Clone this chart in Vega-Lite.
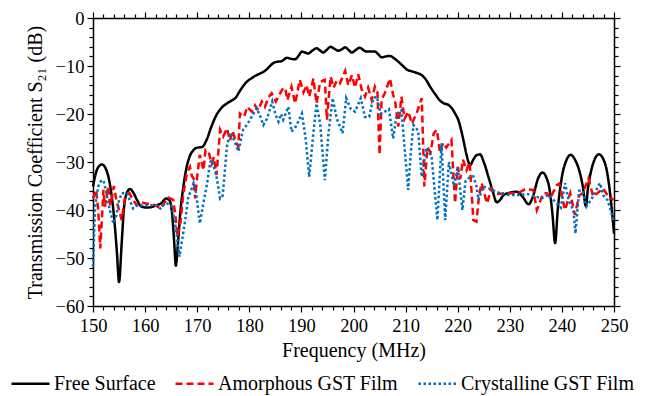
{
  "$schema": "https://vega.github.io/schema/vega-lite/v6.json",
  "width": 521,
  "height": 288,
  "autosize": "none",
  "padding": {"left": 93, "top": 18, "right": 32, "bottom": 90},
  "background": "white",
  "config": {
    "view": {"stroke": null},
    "font": "'Liberation Serif', 'DejaVu Serif', serif",
    "axis": {
      "grid": false,
      "domainColor": "black",
      "domainWidth": 1.5,
      "tickColor": "black",
      "tickWidth": 1.2,
      "labelColor": "black",
      "titleColor": "black",
      "labelFont": "'Liberation Serif', 'DejaVu Serif', serif",
      "titleFont": "'Liberation Serif', 'DejaVu Serif', serif",
      "labelFontSize": 18.5,
      "titleFontSize": 20,
      "titleFontWeight": "normal",
      "labelFlush": false,
      "labelOverlap": false
    },
    "legend": {
      "labelFont": "'Liberation Serif', 'DejaVu Serif', serif",
      "labelFontSize": 20,
      "labelColor": "black",
      "labelLimit": 400
    }
  },
  "data": {
    "values": [
      {"s":"Free Surface","f":150,"v":-35.1},{"s":"Free Surface","f":150.8,"v":-31.5},{"s":"Free Surface","f":151.7,"v":-30.5},{"s":"Free Surface","f":152.5,"v":-31.5},{"s":"Free Surface","f":153.3,"v":-35},{"s":"Free Surface","f":154.0,"v":-41},{"s":"Free Surface","f":154.6,"v":-49},{"s":"Free Surface","f":155.0,"v":-55},{"s":"Free Surface","f":155.5,"v":-47},{"s":"Free Surface","f":156.0,"v":-39},{"s":"Free Surface","f":156.6,"v":-36.2},{"s":"Free Surface","f":157.1,"v":-35.6},{"s":"Free Surface","f":157.8,"v":-36.5},{"s":"Free Surface","f":158.5,"v":-38},{"s":"Free Surface","f":159.3,"v":-39.3},{"s":"Free Surface","f":160.5,"v":-39.5},{"s":"Free Surface","f":162.2,"v":-39},{"s":"Free Surface","f":163.2,"v":-38.5},{"s":"Free Surface","f":164.0,"v":-37.6},{"s":"Free Surface","f":164.7,"v":-38.0},{"s":"Free Surface","f":165.2,"v":-41},{"s":"Free Surface","f":165.6,"v":-47},{"s":"Free Surface","f":165.9,"v":-51.6},{"s":"Free Surface","f":166.3,"v":-47},{"s":"Free Surface","f":166.8,"v":-40},{"s":"Free Surface","f":167.3,"v":-35.5},{"s":"Free Surface","f":167.8,"v":-32},{"s":"Free Surface","f":168.5,"v":-29},{"s":"Free Surface","f":169.3,"v":-27.5},{"s":"Free Surface","f":170.0,"v":-27},{"s":"Free Surface","f":170.9,"v":-26.9},{"s":"Free Surface","f":171.8,"v":-25.4},{"s":"Free Surface","f":172.7,"v":-22.7},{"s":"Free Surface","f":173.7,"v":-20.2},{"s":"Free Surface","f":174.6,"v":-18.8},{"s":"Free Surface","f":175.7,"v":-17.8},{"s":"Free Surface","f":176.6,"v":-17.2},{"s":"Free Surface","f":177.3,"v":-16.7},{"s":"Free Surface","f":178.3,"v":-15.0},{"s":"Free Surface","f":179.5,"v":-13.3},{"s":"Free Surface","f":180.5,"v":-12.5},{"s":"Free Surface","f":181.4,"v":-11.9},{"s":"Free Surface","f":182.2,"v":-11.5},{"s":"Free Surface","f":183.0,"v":-11},{"s":"Free Surface","f":183.8,"v":-10.2},{"s":"Free Surface","f":184.6,"v":-9.4},{"s":"Free Surface","f":185.4,"v":-9.1},{"s":"Free Surface","f":186.2,"v":-9.0},{"s":"Free Surface","f":187.2,"v":-8.3},{"s":"Free Surface","f":188.0,"v":-8.5},{"s":"Free Surface","f":188.8,"v":-8.6},{"s":"Free Surface","f":189.5,"v":-7.8},{"s":"Free Surface","f":190.1,"v":-7.0},{"s":"Free Surface","f":190.7,"v":-7.2},{"s":"Free Surface","f":191.3,"v":-7.4},{"s":"Free Surface","f":192.1,"v":-6.8},{"s":"Free Surface","f":192.9,"v":-6.3},{"s":"Free Surface","f":193.5,"v":-6.7},{"s":"Free Surface","f":194.2,"v":-7.2},{"s":"Free Surface","f":194.9,"v":-6.6},{"s":"Free Surface","f":195.6,"v":-6.0},{"s":"Free Surface","f":196.3,"v":-6.4},{"s":"Free Surface","f":197.1,"v":-6.8},{"s":"Free Surface","f":197.8,"v":-6.5},{"s":"Free Surface","f":198.4,"v":-6.1},{"s":"Free Surface","f":199.0,"v":-6.6},{"s":"Free Surface","f":199.7,"v":-7.2},{"s":"Free Surface","f":200.4,"v":-6.7},{"s":"Free Surface","f":201.2,"v":-6.2},{"s":"Free Surface","f":201.8,"v":-6.6},{"s":"Free Surface","f":202.5,"v":-7.0},{"s":"Free Surface","f":203.3,"v":-7.0},{"s":"Free Surface","f":204.1,"v":-7.0},{"s":"Free Surface","f":204.8,"v":-7.6},{"s":"Free Surface","f":205.4,"v":-8.2},{"s":"Free Surface","f":206.2,"v":-8.0},{"s":"Free Surface","f":207.0,"v":-7.9},{"s":"Free Surface","f":207.8,"v":-8.4},{"s":"Free Surface","f":208.6,"v":-9.1},{"s":"Free Surface","f":209.4,"v":-9.9},{"s":"Free Surface","f":210.2,"v":-10.7},{"s":"Free Surface","f":211.5,"v":-11.2},{"s":"Free Surface","f":212.3,"v":-11.5},{"s":"Free Surface","f":213.1,"v":-11.9},{"s":"Free Surface","f":214.0,"v":-13.0},{"s":"Free Surface","f":214.7,"v":-14.3},{"s":"Free Surface","f":215.7,"v":-15.9},{"s":"Free Surface","f":216.6,"v":-17.2},{"s":"Free Surface","f":217.4,"v":-17.8},{"s":"Free Surface","f":218.2,"v":-18.1},{"s":"Free Surface","f":219.0,"v":-19},{"s":"Free Surface","f":219.5,"v":-19.9},{"s":"Free Surface","f":220.2,"v":-21.5},{"s":"Free Surface","f":220.8,"v":-24.0},{"s":"Free Surface","f":221.3,"v":-26.5},{"s":"Free Surface","f":221.7,"v":-28.5},{"s":"Free Surface","f":222.4,"v":-30.6},{"s":"Free Surface","f":223.0,"v":-29.5},{"s":"Free Surface","f":223.6,"v":-28.6},{"s":"Free Surface","f":224.3,"v":-28.4},{"s":"Free Surface","f":225.0,"v":-30},{"s":"Free Surface","f":225.9,"v":-33.1},{"s":"Free Surface","f":226.7,"v":-36},{"s":"Free Surface","f":227.5,"v":-38.4},{"s":"Free Surface","f":228.2,"v":-37.8},{"s":"Free Surface","f":228.8,"v":-36.9},{"s":"Free Surface","f":230.0,"v":-36.4},{"s":"Free Surface","f":231.3,"v":-36.2},{"s":"Free Surface","f":232.5,"v":-37.3},{"s":"Free Surface","f":233.6,"v":-38.8},{"s":"Free Surface","f":234.5,"v":-37},{"s":"Free Surface","f":235.4,"v":-33.5},{"s":"Free Surface","f":236.3,"v":-32.2},{"s":"Free Surface","f":237.0,"v":-33.2},{"s":"Free Surface","f":237.6,"v":-35.5},{"s":"Free Surface","f":238.2,"v":-41},{"s":"Free Surface","f":238.7,"v":-46.9},{"s":"Free Surface","f":239.2,"v":-40},{"s":"Free Surface","f":240.0,"v":-33.1},{"s":"Free Surface","f":240.8,"v":-29.8},{"s":"Free Surface","f":241.7,"v":-28.5},{"s":"Free Surface","f":242.5,"v":-29.5},{"s":"Free Surface","f":243.2,"v":-31.3},{"s":"Free Surface","f":244.0,"v":-35},{"s":"Free Surface","f":244.6,"v":-39.2},{"s":"Free Surface","f":245.0,"v":-35.5},{"s":"Free Surface","f":245.5,"v":-32.4},{"s":"Free Surface","f":246.3,"v":-29.4},{"s":"Free Surface","f":247.1,"v":-28.4},{"s":"Free Surface","f":247.9,"v":-29.3},{"s":"Free Surface","f":248.6,"v":-31.7},{"s":"Free Surface","f":249.3,"v":-37},{"s":"Free Surface","f":250,"v":-44.9},

      {"s":"Amorphous GST Film","f":150.0,"v":-37.6},{"s":"Amorphous GST Film","f":150.6,"v":-35.8},{"s":"Amorphous GST Film","f":151.0,"v":-40},{"s":"Amorphous GST Film","f":151.4,"v":-48},{"s":"Amorphous GST Film","f":151.7,"v":-42},{"s":"Amorphous GST Film","f":152.0,"v":-35.8},{"s":"Amorphous GST Film","f":152.3,"v":-39.3},{"s":"Amorphous GST Film","f":152.9,"v":-35.1},{"s":"Amorphous GST Film","f":153.3,"v":-39},{"s":"Amorphous GST Film","f":153.6,"v":-37.6},{"s":"Amorphous GST Film","f":154.0,"v":-35},{"s":"Amorphous GST Film","f":154.5,"v":-38},{"s":"Amorphous GST Film","f":155.0,"v":-40},{"s":"Amorphous GST Film","f":155.5,"v":-42.1},{"s":"Amorphous GST Film","f":156.1,"v":-37.6},{"s":"Amorphous GST Film","f":157.0,"v":-36.5},{"s":"Amorphous GST Film","f":157.5,"v":-37.6},{"s":"Amorphous GST Film","f":158.4,"v":-39},{"s":"Amorphous GST Film","f":159.5,"v":-38.5},{"s":"Amorphous GST Film","f":161.0,"v":-38.8},{"s":"Amorphous GST Film","f":162.0,"v":-39},{"s":"Amorphous GST Film","f":162.9,"v":-39.7},{"s":"Amorphous GST Film","f":163.7,"v":-38.5},{"s":"Amorphous GST Film","f":164.5,"v":-37.4},{"s":"Amorphous GST Film","f":165.4,"v":-37.9},{"s":"Amorphous GST Film","f":165.8,"v":-41},{"s":"Amorphous GST Film","f":166.2,"v":-45.6},{"s":"Amorphous GST Film","f":166.8,"v":-42.4},{"s":"Amorphous GST Film","f":167.3,"v":-37},{"s":"Amorphous GST Film","f":168.0,"v":-32.4},{"s":"Amorphous GST Film","f":168.6,"v":-31},{"s":"Amorphous GST Film","f":169.0,"v":-33},{"s":"Amorphous GST Film","f":169.3,"v":-33.4},{"s":"Amorphous GST Film","f":169.6,"v":-37.6},{"s":"Amorphous GST Film","f":170.0,"v":-33},{"s":"Amorphous GST Film","f":170.5,"v":-28.5},{"s":"Amorphous GST Film","f":171.2,"v":-31.7},{"s":"Amorphous GST Film","f":171.6,"v":-27.5},{"s":"Amorphous GST Film","f":172.2,"v":-28},{"s":"Amorphous GST Film","f":172.8,"v":-30.3},{"s":"Amorphous GST Film","f":173.2,"v":-29},{"s":"Amorphous GST Film","f":173.7,"v":-32.7},{"s":"Amorphous GST Film","f":174.4,"v":-23.3},{"s":"Amorphous GST Film","f":175.0,"v":-24.7},{"s":"Amorphous GST Film","f":175.7,"v":-23.0},{"s":"Amorphous GST Film","f":176.3,"v":-25.5},{"s":"Amorphous GST Film","f":176.8,"v":-23.5},{"s":"Amorphous GST Film","f":177.5,"v":-26},{"s":"Amorphous GST Film","f":177.9,"v":-26.8},{"s":"Amorphous GST Film","f":178.2,"v":-19.9},{"s":"Amorphous GST Film","f":179.0,"v":-20.6},{"s":"Amorphous GST Film","f":179.6,"v":-18.5},{"s":"Amorphous GST Film","f":180.5,"v":-19.5},{"s":"Amorphous GST Film","f":181.1,"v":-18.2},{"s":"Amorphous GST Film","f":181.7,"v":-19.2},{"s":"Amorphous GST Film","f":182.4,"v":-17.4},{"s":"Amorphous GST Film","f":183.0,"v":-18.5},{"s":"Amorphous GST Film","f":183.7,"v":-16.5},{"s":"Amorphous GST Film","f":184.3,"v":-15.7},{"s":"Amorphous GST Film","f":185.1,"v":-17.4},{"s":"Amorphous GST Film","f":185.9,"v":-15.7},{"s":"Amorphous GST Film","f":186.5,"v":-14.6},{"s":"Amorphous GST Film","f":186.9,"v":-14.6},{"s":"Amorphous GST Film","f":187.3,"v":-17.1},{"s":"Amorphous GST Film","f":188.1,"v":-14.3},{"s":"Amorphous GST Film","f":188.8,"v":-17.8},{"s":"Amorphous GST Film","f":189.7,"v":-12.9},{"s":"Amorphous GST Film","f":190.4,"v":-15.5},{"s":"Amorphous GST Film","f":191.0,"v":-14},{"s":"Amorphous GST Film","f":191.5,"v":-16.4},{"s":"Amorphous GST Film","f":192.3,"v":-12.6},{"s":"Amorphous GST Film","f":192.9,"v":-17.8},{"s":"Amorphous GST Film","f":193.6,"v":-13.3},{"s":"Amorphous GST Film","f":194.5,"v":-12.9},{"s":"Amorphous GST Film","f":194.9,"v":-21.2},{"s":"Amorphous GST Film","f":195.6,"v":-12.2},{"s":"Amorphous GST Film","f":196.2,"v":-14.5},{"s":"Amorphous GST Film","f":196.8,"v":-13},{"s":"Amorphous GST Film","f":197.4,"v":-13.6},{"s":"Amorphous GST Film","f":198.4,"v":-11.0},{"s":"Amorphous GST Film","f":199.0,"v":-14},{"s":"Amorphous GST Film","f":199.7,"v":-11.9},{"s":"Amorphous GST Film","f":200.3,"v":-14.5},{"s":"Amorphous GST Film","f":200.9,"v":-11.7},{"s":"Amorphous GST Film","f":201.6,"v":-15},{"s":"Amorphous GST Film","f":202.2,"v":-16.4},{"s":"Amorphous GST Film","f":202.8,"v":-14.5},{"s":"Amorphous GST Film","f":203.5,"v":-17.1},{"s":"Amorphous GST Film","f":204.1,"v":-14.3},{"s":"Amorphous GST Film","f":204.6,"v":-15.5},{"s":"Amorphous GST Film","f":205.0,"v":-28.5},{"s":"Amorphous GST Film","f":205.4,"v":-17},{"s":"Amorphous GST Film","f":206.0,"v":-15.7},{"s":"Amorphous GST Film","f":207.0,"v":-12.6},{"s":"Amorphous GST Film","f":207.6,"v":-16},{"s":"Amorphous GST Film","f":208.0,"v":-17.5},{"s":"Amorphous GST Film","f":208.6,"v":-22.6},{"s":"Amorphous GST Film","f":209.2,"v":-16.4},{"s":"Amorphous GST Film","f":209.8,"v":-21},{"s":"Amorphous GST Film","f":210.5,"v":-19.5},{"s":"Amorphous GST Film","f":211.2,"v":-22},{"s":"Amorphous GST Film","f":212.1,"v":-19.9},{"s":"Amorphous GST Film","f":213.1,"v":-16.7},{"s":"Amorphous GST Film","f":213.6,"v":-35.1},{"s":"Amorphous GST Film","f":214.2,"v":-27},{"s":"Amorphous GST Film","f":214.8,"v":-28},{"s":"Amorphous GST Film","f":215.4,"v":-24},{"s":"Amorphous GST Film","f":216.0,"v":-23.3},{"s":"Amorphous GST Film","f":216.6,"v":-28},{"s":"Amorphous GST Film","f":217.2,"v":-26},{"s":"Amorphous GST Film","f":217.8,"v":-27},{"s":"Amorphous GST Film","f":218.8,"v":-25.4},{"s":"Amorphous GST Film","f":219.5,"v":-38.6},{"s":"Amorphous GST Film","f":220.0,"v":-31},{"s":"Amorphous GST Film","f":220.5,"v":-33.5},{"s":"Amorphous GST Film","f":221.0,"v":-29.5},{"s":"Amorphous GST Film","f":221.7,"v":-31.7},{"s":"Amorphous GST Film","f":222.3,"v":-30},{"s":"Amorphous GST Film","f":223.0,"v":-42.1},{"s":"Amorphous GST Film","f":223.6,"v":-42.4},{"s":"Amorphous GST Film","f":224.1,"v":-37},{"s":"Amorphous GST Film","f":224.6,"v":-34.4},{"s":"Amorphous GST Film","f":225.6,"v":-38.6},{"s":"Amorphous GST Film","f":226.5,"v":-35.5},{"s":"Amorphous GST Film","f":227.5,"v":-36.7},{"s":"Amorphous GST Film","f":229.1,"v":-36.5},{"s":"Amorphous GST Film","f":231.6,"v":-36.5},{"s":"Amorphous GST Film","f":232.9,"v":-35.7},{"s":"Amorphous GST Film","f":234.5,"v":-35.8},{"s":"Amorphous GST Film","f":235.2,"v":-40},{"s":"Amorphous GST Film","f":236.4,"v":-36.5},{"s":"Amorphous GST Film","f":237.1,"v":-36.5},{"s":"Amorphous GST Film","f":237.8,"v":-37.5},{"s":"Amorphous GST Film","f":239.0,"v":-34.8},{"s":"Amorphous GST Film","f":239.5,"v":-34.5},{"s":"Amorphous GST Film","f":240.6,"v":-40},{"s":"Amorphous GST Film","f":241.6,"v":-36.5},{"s":"Amorphous GST Film","f":242.5,"v":-41},{"s":"Amorphous GST Film","f":243.3,"v":-37},{"s":"Amorphous GST Film","f":244.0,"v":-36.5},{"s":"Amorphous GST Film","f":245.1,"v":-33.4},{"s":"Amorphous GST Film","f":246.0,"v":-37.2},{"s":"Amorphous GST Film","f":246.8,"v":-36.5},{"s":"Amorphous GST Film","f":247.9,"v":-35.5},{"s":"Amorphous GST Film","f":248.8,"v":-37},{"s":"Amorphous GST Film","f":249.9,"v":-37.9},

      {"s":"Crystalline GST Film","f":150.0,"v":-51.8},{"s":"Crystalline GST Film","f":150.4,"v":-39.3},{"s":"Crystalline GST Film","f":151.0,"v":-35.1},{"s":"Crystalline GST Film","f":151.5,"v":-34},{"s":"Crystalline GST Film","f":152.0,"v":-33.8},{"s":"Crystalline GST Film","f":152.5,"v":-36},{"s":"Crystalline GST Film","f":153.0,"v":-39},{"s":"Crystalline GST Film","f":153.9,"v":-42.8},{"s":"Crystalline GST Film","f":154.5,"v":-41},{"s":"Crystalline GST Film","f":155.0,"v":-38},{"s":"Crystalline GST Film","f":155.5,"v":-36.5},{"s":"Crystalline GST Film","f":156.5,"v":-36.5},{"s":"Crystalline GST Film","f":157.7,"v":-39.7},{"s":"Crystalline GST Film","f":158.5,"v":-39},{"s":"Crystalline GST Film","f":160.0,"v":-39},{"s":"Crystalline GST Film","f":162.2,"v":-39},{"s":"Crystalline GST Film","f":162.9,"v":-39.7},{"s":"Crystalline GST Film","f":164.0,"v":-38.5},{"s":"Crystalline GST Film","f":165.0,"v":-39},{"s":"Crystalline GST Film","f":165.7,"v":-42.1},{"s":"Crystalline GST Film","f":166.6,"v":-49.7},{"s":"Crystalline GST Film","f":167.0,"v":-47},{"s":"Crystalline GST Film","f":167.7,"v":-42.1},{"s":"Crystalline GST Film","f":168.3,"v":-37.2},{"s":"Crystalline GST Film","f":168.8,"v":-36},{"s":"Crystalline GST Film","f":169.3,"v":-34.4},{"s":"Crystalline GST Film","f":169.8,"v":-36.5},{"s":"Crystalline GST Film","f":170.5,"v":-42.8},{"s":"Crystalline GST Film","f":171.2,"v":-38.5},{"s":"Crystalline GST Film","f":171.9,"v":-34.5},{"s":"Crystalline GST Film","f":172.5,"v":-30},{"s":"Crystalline GST Film","f":172.8,"v":-29.6},{"s":"Crystalline GST Film","f":173.2,"v":-31},{"s":"Crystalline GST Film","f":173.7,"v":-33},{"s":"Crystalline GST Film","f":174.4,"v":-37.6},{"s":"Crystalline GST Film","f":174.9,"v":-37},{"s":"Crystalline GST Film","f":175.7,"v":-26.8},{"s":"Crystalline GST Film","f":176.3,"v":-24.0},{"s":"Crystalline GST Film","f":176.9,"v":-25},{"s":"Crystalline GST Film","f":177.9,"v":-27.8},{"s":"Crystalline GST Film","f":178.8,"v":-23.3},{"s":"Crystalline GST Film","f":179.7,"v":-22},{"s":"Crystalline GST Film","f":180.5,"v":-20.5},{"s":"Crystalline GST Film","f":181.4,"v":-18.8},{"s":"Crystalline GST Film","f":182.1,"v":-20.5},{"s":"Crystalline GST Film","f":182.7,"v":-22.3},{"s":"Crystalline GST Film","f":183.4,"v":-21},{"s":"Crystalline GST Film","f":184.4,"v":-17.4},{"s":"Crystalline GST Film","f":185.0,"v":-20},{"s":"Crystalline GST Film","f":185.6,"v":-21.6},{"s":"Crystalline GST Film","f":186.1,"v":-20},{"s":"Crystalline GST Film","f":186.5,"v":-21.2},{"s":"Crystalline GST Film","f":187.5,"v":-18.5},{"s":"Crystalline GST Film","f":188.1,"v":-23.7},{"s":"Crystalline GST Film","f":189.0,"v":-22.5},{"s":"Crystalline GST Film","f":190.1,"v":-19.9},{"s":"Crystalline GST Film","f":190.8,"v":-25},{"s":"Crystalline GST Film","f":191.5,"v":-33.1},{"s":"Crystalline GST Film","f":192.2,"v":-25},{"s":"Crystalline GST Film","f":192.9,"v":-17.8},{"s":"Crystalline GST Film","f":193.6,"v":-22},{"s":"Crystalline GST Film","f":194.5,"v":-33.8},{"s":"Crystalline GST Film","f":195.2,"v":-24},{"s":"Crystalline GST Film","f":196.0,"v":-16.7},{"s":"Crystalline GST Film","f":196.8,"v":-21},{"s":"Crystalline GST Film","f":197.9,"v":-24.0},{"s":"Crystalline GST Film","f":198.6,"v":-16.7},{"s":"Crystalline GST Film","f":199.5,"v":-19},{"s":"Crystalline GST Film","f":200.3,"v":-19.5},{"s":"Crystalline GST Film","f":201.4,"v":-16.7},{"s":"Crystalline GST Film","f":202.2,"v":-20.6},{"s":"Crystalline GST Film","f":203.0,"v":-20.6},{"s":"Crystalline GST Film","f":203.8,"v":-16.7},{"s":"Crystalline GST Film","f":204.5,"v":-16.4},{"s":"Crystalline GST Film","f":205.2,"v":-20},{"s":"Crystalline GST Film","f":206.0,"v":-19.5},{"s":"Crystalline GST Film","f":206.8,"v":-19},{"s":"Crystalline GST Film","f":207.6,"v":-25.1},{"s":"Crystalline GST Film","f":208.3,"v":-20},{"s":"Crystalline GST Film","f":209.2,"v":-19.2},{"s":"Crystalline GST Film","f":209.8,"v":-27},{"s":"Crystalline GST Film","f":210.5,"v":-35.8},{"s":"Crystalline GST Film","f":211.0,"v":-28},{"s":"Crystalline GST Film","f":211.5,"v":-22.3},{"s":"Crystalline GST Film","f":212.4,"v":-23.5},{"s":"Crystalline GST Film","f":213.1,"v":-33.1},{"s":"Crystalline GST Film","f":214.0,"v":-27},{"s":"Crystalline GST Film","f":215.0,"v":-29},{"s":"Crystalline GST Film","f":216.1,"v":-42.1},{"s":"Crystalline GST Film","f":216.9,"v":-26.1},{"s":"Crystalline GST Film","f":217.6,"v":-42.1},{"s":"Crystalline GST Film","f":218.3,"v":-30},{"s":"Crystalline GST Film","f":219.3,"v":-35},{"s":"Crystalline GST Film","f":220.0,"v":-31},{"s":"Crystalline GST Film","f":220.9,"v":-40},{"s":"Crystalline GST Film","f":221.5,"v":-34},{"s":"Crystalline GST Film","f":222.4,"v":-33.1},{"s":"Crystalline GST Film","f":223.0,"v":-33},{"s":"Crystalline GST Film","f":223.6,"v":-35},{"s":"Crystalline GST Film","f":224.0,"v":-37.9},{"s":"Crystalline GST Film","f":224.9,"v":-35.1},{"s":"Crystalline GST Film","f":226.0,"v":-35.5},{"s":"Crystalline GST Film","f":227.2,"v":-36.2},{"s":"Crystalline GST Film","f":229.7,"v":-36.9},{"s":"Crystalline GST Film","f":231.5,"v":-36.9},{"s":"Crystalline GST Film","f":233.5,"v":-36.7},{"s":"Crystalline GST Film","f":236.1,"v":-37.6},{"s":"Crystalline GST Film","f":237.5,"v":-36.8},{"s":"Crystalline GST Film","f":239.0,"v":-38.6},{"s":"Crystalline GST Film","f":239.8,"v":-39.5},{"s":"Crystalline GST Film","f":240.6,"v":-34.4},{"s":"Crystalline GST Film","f":241.3,"v":-38},{"s":"Crystalline GST Film","f":242.2,"v":-40},{"s":"Crystalline GST Film","f":242.6,"v":-44.9},{"s":"Crystalline GST Film","f":243.3,"v":-36},{"s":"Crystalline GST Film","f":244.0,"v":-36},{"s":"Crystalline GST Film","f":244.7,"v":-39.3},{"s":"Crystalline GST Film","f":245.8,"v":-37.5},{"s":"Crystalline GST Film","f":247.3,"v":-34.4},{"s":"Crystalline GST Film","f":248.0,"v":-37},{"s":"Crystalline GST Film","f":248.8,"v":-38},{"s":"Crystalline GST Film","f":249.9,"v":-42.1}
    ]
  },
  "layer": [
    {
      "transform": [{"filter": "datum.s === 'Free Surface'"}],
      "mark": {"type": "line", "interpolate": "monotone", "strokeWidth": 2.5},
      "encoding": {
        "x": {
          "field": "f", "type": "quantitative",
          "scale": {"domain": [150, 250], "nice": false, "zero": false},
          "axis": {
            "title": "Frequency (MHz)",
            "values": [150,152,154,156,158,160,162,164,166,168,170,172,174,176,178,180,182,184,186,188,190,192,194,196,198,200,202,204,206,208,210,212,214,216,218,220,222,224,226,228,230,232,234,236,238,240,242,244,246,248,250],
            "labelExpr": "datum.value % 10 === 0 ? datum.label : ''",
            "tickSize": {"condition": {"test": "datum.value % 10 === 0", "value": 6}, "value": 4},
            "labelPadding": 4,
            "titlePadding": 6
          }
        },
        "y": {
          "field": "v", "type": "quantitative",
          "scale": {"domain": [-60, 0], "nice": false, "zero": false},
          "axis": {
            "title": "Transmission Coefficient S₂₁ (dB)",
            "values": [-60,-58,-56,-54,-52,-50,-48,-46,-44,-42,-40,-38,-36,-34,-32,-30,-28,-26,-24,-22,-20,-18,-16,-14,-12,-10,-8,-6,-4,-2,0],
            "labelExpr": "datum.value % 10 === 0 ? datum.label : ''",
            "tickSize": {"condition": {"test": "datum.value % 10 === 0", "value": 6}, "value": 4},
            "labelPadding": 3,
            "titlePadding": 10
          }
        },
        "color": {
          "field": "s", "type": "nominal",
          "scale": {"domain": ["Free Surface", "Amorphous GST Film", "Crystalline GST Film"], "range": ["#000000", "#FF0000", "#0070C0"]},
          "legend": {
            "title": null, "orient": "none", "direction": "horizontal",
            "legendX": -83, "legendY": 345,
            "symbolType": "stroke", "symbolSize": 1444, "symbolStrokeWidth": 2.5,
            "labelOffset": 3, "columnPadding": 14, "labelLimit": 400
          }
        },
        "strokeDash": {
          "field": "s", "type": "nominal",
          "scale": {"domain": ["Free Surface", "Amorphous GST Film", "Crystalline GST Film"], "range": [[1, 0], [7, 4], [2.5, 2.5]]},
          "legend": {
            "title": null, "orient": "none", "direction": "horizontal",
            "legendX": -83, "legendY": 345,
            "symbolType": "stroke", "symbolSize": 1444, "symbolStrokeWidth": 2.5,
            "labelOffset": 3, "columnPadding": 14, "labelLimit": 400
          }
        }
      }
    },
    {
      "transform": [{"filter": "datum.s !== 'Free Surface'"}],
      "mark": {"type": "line", "strokeWidth": 2.5},
      "encoding": {
        "x": {"field": "f", "type": "quantitative", "axis": null},
        "y": {"field": "v", "type": "quantitative", "axis": null},
        "color": {"field": "s", "type": "nominal"},
        "strokeDash": {"field": "s", "type": "nominal"}
      }
    },
    {
      "transform": [{"filter": "datum.s === 'Free Surface'"}],
      "mark": {"type": "point", "opacity": 0},
      "encoding": {
        "x": {
          "field": "f", "type": "quantitative",
          "axis": {
            "orient": "top", "title": null, "labels": false,
            "values": [150,152,154,156,158,160,162,164,166,168,170,172,174,176,178,180,182,184,186,188,190,192,194,196,198,200,202,204,206,208,210,212,214,216,218,220,222,224,226,228,230,232,234,236,238,240,242,244,246,248,250],
            "tickSize": {"condition": {"test": "datum.value % 10 === 0", "value": 6}, "value": 4}
          }
        },
        "y": {
          "field": "v", "type": "quantitative",
          "axis": {
            "orient": "right", "title": null, "labels": false,
            "values": [-60,-58,-56,-54,-52,-50,-48,-46,-44,-42,-40,-38,-36,-34,-32,-30,-28,-26,-24,-22,-20,-18,-16,-14,-12,-10,-8,-6,-4,-2,0],
            "tickSize": {"condition": {"test": "datum.value % 10 === 0", "value": 6}, "value": 4}
          }
        }
      }
    }
  ],
  "resolve": {"axis": {"x": "independent", "y": "independent"}}
}
